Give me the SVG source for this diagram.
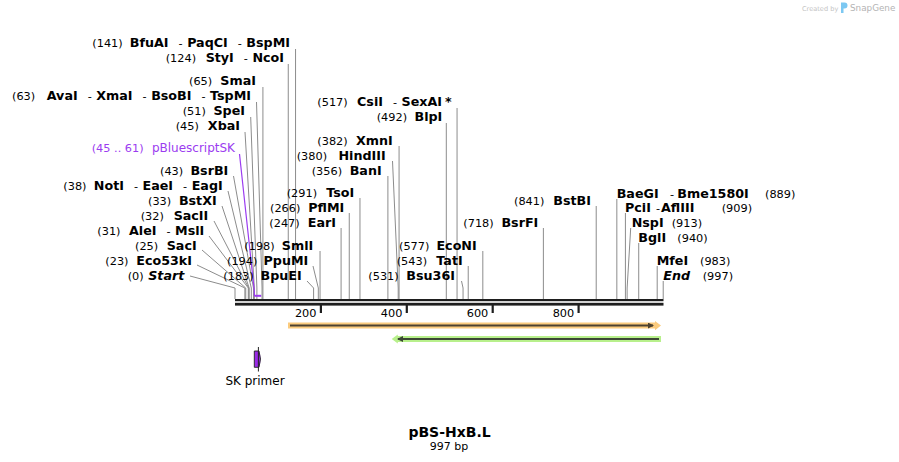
<svg xmlns="http://www.w3.org/2000/svg" width="899" height="462" viewBox="0 0 899 462">
<style>
text{font-family:"DejaVu Sans","Verdana",sans-serif;fill:#000}
.num{font-size:11.3px;font-weight:normal}
.nm{font-size:12.7px;font-weight:bold}
.nm tspan.h{font-weight:normal;font-size:11.3px}
.it{font-style:italic}
.pur{fill:#9b3cf0}
.ld{fill:none;stroke:#8c8c8c;stroke-width:1}
.ldp{fill:none;stroke:#9b3cf0;stroke-width:1.2}
.tick{font-size:11.3px}
</style>
<defs>
<marker id="ahR" viewBox="0 0 6 6" refX="5" refY="3" markerWidth="6" markerHeight="6" markerUnits="userSpaceOnUse" orient="auto"><path d="M0,0 L6,3 L0,6 Z" fill="#4d4230"/></marker>
<marker id="ahG" viewBox="0 0 6 6" refX="5" refY="3" markerWidth="6" markerHeight="6" markerUnits="userSpaceOnUse" orient="auto"><path d="M0,0 L6,3 L0,6 Z" fill="#3c4634"/></marker>
</defs>
<rect width="899" height="462" fill="#fff"/>

<g id="watermark">
<text x="802" y="10.5" style="font-size:6.6px;fill:#c4c4c4">Created by</text>
<path d="M841,2.5 h3.5 a3,3 0 0 1 0,6 h-1 v4.5 h-2.5 Z" fill="#7cc8f2"/>
<text x="850" y="11" style="font-size:8.8px;fill:#b4b4b4">SnapGene</text>
</g>

<g id="connectors">
<path class="ld" d="M295.56,49 V299"/>
<path class="ld" d="M288.26,64 V299"/>
<path class="ld" d="M262.92,87 V299"/>
<path class="ld" d="M256.5,102 L262.06,288 V299"/>
<path class="ld" d="M250.7,117 L256.9,288 V299"/>
<path class="ld" d="M245,132 L254.33,288 V299"/>
<path class="ld" d="M233.5,176 L253.47,288 V299"/>
<path class="ld" d="M228,191 L251.32,288 V299"/>
<path class="ld" d="M222,206 L249.17,288 V299"/>
<path class="ld" d="M214,221 L248.74,288 V299"/>
<path class="ld" d="M209,236 L248.31,288 V299"/>
<path class="ld" d="M202,250 L245.74,288 V299"/>
<path class="ld" d="M197,265 L244.88,288 V299"/>
<path class="ld" d="M190,276 L235,288 V299"/>
<path class="ld" d="M307,281 L313.6,288 V299"/>
<path class="ld" d="M313,266 L318.32,288 V299"/>
<path class="ld" d="M320.04,251 V299"/>
<path class="ld" d="M341.09,228 V299"/>
<path class="ld" d="M349.25,213 V299"/>
<path class="ld" d="M359.98,198 V299"/>
<path class="ld" d="M387.9,176 V299"/>
<path class="ld" d="M392.5,161 L398.21,288 V299"/>
<path class="ld" d="M399.07,146 V299"/>
<path class="ld" d="M446.31,123 V299"/>
<path class="ld" d="M457.05,108 V299"/>
<path class="ld" d="M461.5,281 L463.06,288 V299"/>
<path class="ld" d="M468.22,266 V299"/>
<path class="ld" d="M482.82,251 V299"/>
<path class="ld" d="M543.38,228 V299"/>
<path class="ld" d="M596.21,206 V299"/>
<path class="ld" d="M616.83,199 V299"/>
<path class="ld" d="M625.42,213 V299"/>
<path class="ld" d="M630.7,228 L627.13,288 V299"/>
<path class="ld" d="M638.73,243 V299"/>
<path class="ld" d="M657.2,266 V299"/>
<path class="ld" d="M663.21,281 V299"/>
<path class="ldp" d="M239.5,154 L254.33,291 V296"/>
</g>

<g id="backbone">
<rect x="235" y="299" width="428.5" height="2.2" fill="#1e1e1e"/>
<rect x="235" y="302.8" width="428.5" height="2.8" fill="#1e1e1e"/>
<rect x="319.8" y="305" width="2.2" height="8" fill="#1e1e1e"/>
<rect x="405.7" y="305" width="2.2" height="8" fill="#1e1e1e"/>
<rect x="491.6" y="305" width="2.2" height="8" fill="#1e1e1e"/>
<rect x="577.5" y="305" width="2.2" height="8" fill="#1e1e1e"/>
<text class="tick" x="316.5" y="316.5" text-anchor="end">200</text>
<text class="tick" x="402.4" y="316.5" text-anchor="end">400</text>
<text class="tick" x="488.3" y="316.5" text-anchor="end">600</text>
<text class="tick" x="574.2" y="316.5" text-anchor="end">800</text>
<rect x="254.33" y="294.8" width="6.87" height="2" fill="#9b3cf0"/>
</g>

<g id="feature-orange">
<path d="M288,322.6 H655 V321 L661,325.6 L655,330.2 V328.6 H288 Z" fill="#fbcb7e"/>
<path d="M290,325.6 H653" stroke="#4d4230" stroke-width="2" marker-end="url(#ahR)"/>
</g>
<g id="feature-green">
<path d="M391.7,339 L397.8,334.4 V336 H661 V342 H397.8 V343.6 Z" fill="#b8f08c"/>
<path d="M659,339 H398" stroke="#3c4634" stroke-width="2" marker-end="url(#ahG)"/>
</g>

<g id="sk-primer">
<path d="M254.3,351 H259 Q262,359 259,367.3 H254.3 Z" fill="#9a2be6" stroke="#222" stroke-width="0.9"/>
<path d="M258.4,347 V371.5" stroke="#222" stroke-width="1"/>
<text x="255" y="384.5" text-anchor="middle" style="font-size:12px">SK primer</text>
</g>

<g id="title">
<text x="449.5" y="437" text-anchor="middle" style="font-size:14px;font-weight:bold">pBS-HxB.L</text>
<text x="449" y="449.5" text-anchor="middle" style="font-size:11px">997 bp</text>
</g>

<g id="site-141"><text class="num" x="92.3" y="46.5">(141)</text><text class="nm" x="290" y="46.5" text-anchor="end">BfuAI<tspan class="h" dx="10">-</tspan><tspan dx="4.5">PaqCI</tspan><tspan class="h" dx="10">-</tspan><tspan dx="4.5">BspMI</tspan></text></g>
<g id="site-124"><text class="num" x="165.7" y="61.5">(124)</text><text class="nm" x="284" y="61.5" text-anchor="end">StyI<tspan class="h" dx="10">-</tspan><tspan dx="4.5">NcoI</tspan></text></g>
<g id="site-65"><text class="num" x="189" y="84.5">(65)</text><text class="nm" x="256" y="84.5" text-anchor="end">SmaI</text></g>
<g id="site-63"><text class="num" x="12" y="99.5">(63)</text><text class="nm" x="251" y="99.5" text-anchor="end">AvaI<tspan class="h" dx="10">-</tspan><tspan dx="4.5">XmaI</tspan><tspan class="h" dx="10">-</tspan><tspan dx="4.5">BsoBI</tspan><tspan class="h" dx="10">-</tspan><tspan dx="4.5">TspMI</tspan></text></g>
<g id="site-51"><text class="num" x="182.7" y="114.5">(51)</text><text class="nm" x="245" y="114.5" text-anchor="end">SpeI</text></g>
<g id="site-45"><text class="num" x="175.7" y="129.5">(45)</text><text class="nm" x="240" y="129.5" text-anchor="end">XbaI</text></g>
<g id="feature-pBluescriptSK"><text class="num pur" x="91.7" y="151.5">(45 .. 61)</text><text class="pur" x="235" y="151.5" text-anchor="end" style="font-size:12px">pBluescriptSK</text></g>
<g id="site-43"><text class="num" x="160" y="174.5">(43)</text><text class="nm" x="228.3" y="174.5" text-anchor="end">BsrBI</text></g>
<g id="site-38"><text class="num" x="63.3" y="189.5">(38)</text><text class="nm" x="222.7" y="189.5" text-anchor="end">NotI<tspan class="h" dx="10">-</tspan><tspan dx="4.5">EaeI</tspan><tspan class="h" dx="10">-</tspan><tspan dx="4.5">EagI</tspan></text></g>
<g id="site-33"><text class="num" x="148" y="204.5">(33)</text><text class="nm" x="216.7" y="204.5" text-anchor="end">BstXI</text></g>
<g id="site-32"><text class="num" x="140.7" y="219.5">(32)</text><text class="nm" x="208.3" y="219.5" text-anchor="end">SacII</text></g>
<g id="site-31"><text class="num" x="97.3" y="234.5">(31)</text><text class="nm" x="204.3" y="234.5" text-anchor="end">AleI<tspan class="h" dx="10">-</tspan><tspan dx="4.5">MslI</tspan></text></g>
<g id="site-25"><text class="num" x="135" y="249.5">(25)</text><text class="nm" x="196.7" y="249.5" text-anchor="end">SacI</text></g>
<g id="site-23"><text class="num" x="105.3" y="264.5">(23)</text><text class="nm" x="192" y="264.5" text-anchor="end">Eco53kI</text></g>
<g id="site-0"><text class="num" x="127.7" y="279.5">(0)</text><text class="nm it" x="184.3" y="279.5" text-anchor="end">Start</text></g>
<g id="site-183"><text class="num" x="223.3" y="279.5">(183)</text><text class="nm" x="301.7" y="279.5" text-anchor="end">BpuEI</text></g>
<g id="site-194"><text class="num" x="227" y="264.5">(194)</text><text class="nm" x="308.3" y="264.5" text-anchor="end">PpuMI</text></g>
<g id="site-198"><text class="num" x="244.3" y="249.5">(198)</text><text class="nm" x="313.3" y="249.5" text-anchor="end">SmlI</text></g>
<g id="site-247"><text class="num" x="269.3" y="226.5">(247)</text><text class="nm" x="336" y="226.5" text-anchor="end">EarI</text></g>
<g id="site-266"><text class="num" x="270" y="211.5">(266)</text><text class="nm" x="344.3" y="211.5" text-anchor="end">PflMI</text></g>
<g id="site-291"><text class="num" x="286.7" y="196.5">(291)</text><text class="nm" x="354.3" y="196.5" text-anchor="end">TsoI</text></g>
<g id="site-356"><text class="num" x="311.7" y="174.5">(356)</text><text class="nm" x="381.7" y="174.5" text-anchor="end">BanI</text></g>
<g id="site-380"><text class="num" x="296.7" y="159.5">(380)</text><text class="nm" x="385.7" y="159.5" text-anchor="end">HindIII</text></g>
<g id="site-382"><text class="num" x="317.3" y="144.5">(382)</text><text class="nm" x="392.7" y="144.5" text-anchor="end">XmnI</text></g>
<g id="site-492"><text class="num" x="376.7" y="120.8">(492)</text><text class="nm" x="442.3" y="120.8" text-anchor="end">BlpI</text></g>
<g id="site-517"><text class="num" x="317.3" y="105.5">(517)</text><text class="nm" x="451.7" y="105.5" text-anchor="end">CsiI<tspan class="h" dx="10">-</tspan><tspan dx="4.5">SexAI</tspan><tspan dx="3">*</tspan></text></g>
<g id="site-531"><text class="num" x="368.3" y="279.5">(531)</text><text class="nm" x="455" y="279.5" text-anchor="end">Bsu36I</text></g>
<g id="site-543"><text class="num" x="396.7" y="264.5">(543)</text><text class="nm" x="462.7" y="264.5" text-anchor="end">TatI</text></g>
<g id="site-577"><text class="num" x="399" y="249.5">(577)</text><text class="nm" x="476.7" y="249.5" text-anchor="end">EcoNI</text></g>
<g id="site-718"><text class="num" x="463.3" y="226.5">(718)</text><text class="nm" x="538.3" y="226.5" text-anchor="end">BsrFI</text></g>
<g id="site-841"><text class="num" x="514" y="204.5">(841)</text><text class="nm" x="591" y="204.5" text-anchor="end">BstBI</text></g>

<g id="site-889"><text class="nm" x="616.7" y="197.5">BaeGI</text><text class="num" x="670" y="197.5">-</text><text class="nm" x="677.3" y="197.5">Bme1580I</text><text class="num" x="765" y="197.5">(889)</text></g>
<g id="site-909"><text class="nm" x="625" y="211.5">PciI</text><text class="num" x="656" y="211.5">-</text><text class="nm" x="661" y="211.5">AflIII</text><text class="num" x="721.7" y="211.5">(909)</text></g>
<g id="site-913"><text class="nm" x="631.7" y="226.5">NspI</text><text class="num" x="671.7" y="226.5">(913)</text></g>
<g id="site-940"><text class="nm" x="638.3" y="241.8">BglI</text><text class="num" x="677.3" y="241.8">(940)</text></g>
<g id="site-983"><text class="nm" x="656.7" y="264.5">MfeI</text><text class="num" x="700" y="264.5">(983)</text></g>
<g id="site-997"><text class="nm it" x="663.3" y="279.5">End</text><text class="num" x="702.7" y="279.5">(997)</text></g>
</svg>
